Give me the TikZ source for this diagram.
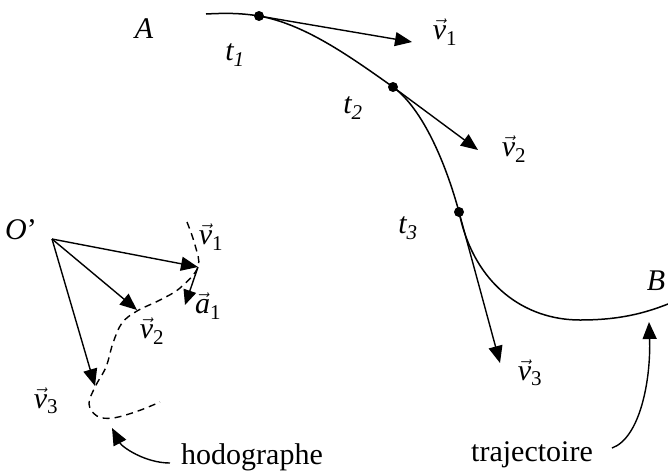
\documentclass[tikz,border=0pt]{standalone}
\usepackage{fontspec}
\setmainfont{Liberation Serif}
\usetikzlibrary{arrows.meta}
\newcommand{\vecl}[2]{$\vec{\mbox{\itshape #1}}$\textsubscript{#2}}

\begin{document}
\begin{tikzpicture}[
    x=1pt, y=-1pt,
    lbl/.style={font=\fontsize{30}{36}\selectfont, inner sep=0pt},
    curve/.style={line width=1.5pt},
    vecarr/.style={-{Triangle[length=17pt,width=14pt]}, line width=1.4pt},
    hodo/.style={line width=1.4pt, dash pattern=on 7pt off 5pt},
    dot/.style={circle, fill, inner sep=0pt, minimum size=10pt}
  ]
  \useasboundingbox (0,0) rectangle (668,474);

  % Trajectory A -> B
  \coordinate (start) at (206,14);
  \node[dot] (t1) at (259,16) {};
  \node[dot] (t2) at (393,87) {};
  \node[dot] (t3) at (459,212) {};
  \coordinate (low) at (580,320);
  \coordinate (end) at (668,304);
  \draw[curve] (start) .. controls (225,13) and (241,13) .. (t1.center)
    .. controls (304,24) and (348,55) .. (t2.center)
    .. controls (423,109) and (446,164) .. (t3.center)
    .. controls (474,285) and (525,320) .. (low)
    .. controls (620,320) and (645,313) .. (end);

  % Velocities along the trajectory
  \coordinate (v1tip) at (412,42);
  \coordinate (v2tip) at (478,150);
  \coordinate (v3tip) at (500,363);
  \draw[vecarr] (t1.center) -- (v1tip);
  \draw[vecarr] (t2.center) -- (v2tip);
  \draw[vecarr] (t3.center) -- (v3tip);

  \node[lbl] (A) at (144,29) {\textit{A}};
  \node[lbl] (B) at (656,281) {\textit{B}};
  \node[lbl] (t1lbl) at (235,55) {\textit{t\textsubscript{1}}};
  \node[lbl] (t2lbl) at (353,108) {\textit{t\textsubscript{2}}};
  \node[lbl] (t3lbl) at (408,228) {\textit{t\textsubscript{3}}};
  \node[lbl] (v1lbl) at (445,32) {\vecl{v}{1}};
  \node[lbl] (v2lbl) at (514,149) {\vecl{v}{2}};
  \node[lbl] (v3lbl) at (530,373) {\vecl{v}{3}};

  % Hodograph
  \coordinate (O) at (52,239);
  \coordinate (h1) at (198,267);
  \coordinate (h2) at (137,310);
  \coordinate (h3) at (95,386);
  \coordinate (ha) at (185,305);
  \draw[hodo] plot[smooth, tension=0.6] coordinates {(187,222) (195,245) (198,267)
    (180,288) (160,300) (137,311) (122,323) (113,343) (106,367) (95,387)
    (89,404) (97,416) (113,418) (138,411) (160,402)};
  \draw[vecarr] (O) -- (h1);
  \draw[vecarr] (O) -- (h2);
  \draw[vecarr] (O) -- (h3);
  \draw[vecarr, -{Triangle[length=15pt,width=13pt]}] (h1) -- (ha);

  \node[lbl] (Olbl) at (21,230) {\textit{O}'};
  \node[lbl] (h1lbl) at (211,237) {\vecl{v}{1}};
  \node[lbl] (halbl) at (208,306) {\vecl{a}{1}};
  \node[lbl] (h2lbl) at (152,331) {\vecl{v}{2}};
  \node[lbl] (h3lbl) at (46,401) {\vecl{v}{3}};

  % Names
  \node[lbl] (hodotxt) at (252,457) {hodographe};
  \node[lbl] (trajtxt) at (532,455) {trajectoire};
  \coordinate (hodotip) at (112,428);
  \coordinate (trajtip) at (649,322);
  \draw[vecarr] ([shift={(-11,6)}]hodotxt.west) .. controls (145,463) and (122,447) .. (hodotip);
  \draw[vecarr] ([shift={(19,-7)}]trajtxt.east) .. controls (640,438) and (651,380) .. (trajtip);
\end{tikzpicture}
\end{document}
